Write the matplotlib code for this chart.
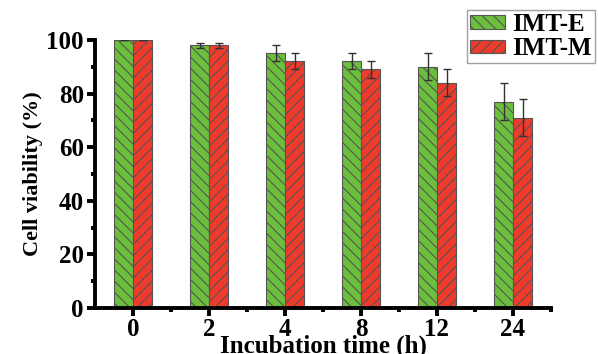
import matplotlib.pyplot as plt
import numpy as np

times = ['0', '2', '4', '8', '12', '24']
imt_e = [100, 98, 95, 92, 90, 77]
imt_e_err = [0, 1, 3, 3, 5, 7]
imt_m = [100, 98, 92, 89, 84, 71]
imt_m_err = [0, 1, 3, 3, 5, 7]

plt.rcParams['font.family'] = ['Liberation Serif', 'DejaVu Serif']
plt.rcParams['font.weight'] = 'bold'
plt.rcParams['hatch.linewidth'] = 0.8
plt.rcParams['hatch.color'] = '#1a1a1a'

fig = plt.figure(figsize=(5.98, 3.54), dpi=100)
ax = fig.add_axes([95/598, 1-308/354, 456/598, 268/354])

x = np.arange(len(times))
w = 0.25
ax.bar(x - w/2, imt_e, w, color='#6cbf3c', edgecolor='#555555', linewidth=0.8,
       hatch='\\\\\\', yerr=imt_e_err, capsize=3,
       error_kw=dict(elinewidth=1, ecolor='#333333', capthick=1), label='IMT-E')
ax.bar(x + w/2, imt_m, w, color='#f03a2b', edgecolor='#555555', linewidth=0.8,
       hatch='///', yerr=imt_m_err, capsize=3,
       error_kw=dict(elinewidth=1, ecolor='#333333', capthick=1), label='IMT-M')

ax.set_xlim(-0.5, 5.5)
ax.set_ylim(0, 100)
ax.set_xticks(x)
ax.set_xticklabels(times)
ax.set_xticks(np.append(x[:-1] + 0.5, 5.5), minor=True)
ax.set_yticks([0, 20, 40, 60, 80, 100])
ax.set_yticks([10, 30, 50, 70, 90], minor=True)

for s in ['top', 'right']:
    ax.spines[s].set_visible(False)
for s in ['left', 'bottom']:
    ax.spines[s].set_linewidth(2.8)
ax.tick_params(axis='both', which='major', direction='out', length=6, width=2.8,
               labelsize=18, pad=2)
ax.tick_params(axis='x', which='major', pad=1)
ax.tick_params(axis='both', which='minor', direction='out', length=3, width=2.8)

ax.set_ylabel('Cell viability (%)', fontsize=16, fontweight='bold')
ax.set_xlabel('Incubation time (h)', fontsize=18, fontweight='bold')
ax.yaxis.set_label_coords(-0.115, 0.5)
ax.xaxis.set_label_coords(0.5, -0.10)

leg = ax.legend(loc='upper left', bbox_to_anchor=(467/598, 1-10/354),
                bbox_transform=fig.transFigure, fontsize=18, frameon=True,
                fancybox=False, edgecolor='#888888', borderaxespad=0,
                handlelength=1.4, handleheight=0.45, handletextpad=0.3,
                labelspacing=0.05, borderpad=0.12)
leg.get_frame().set_linewidth(1)

fig.savefig('out.png', dpi=100)
